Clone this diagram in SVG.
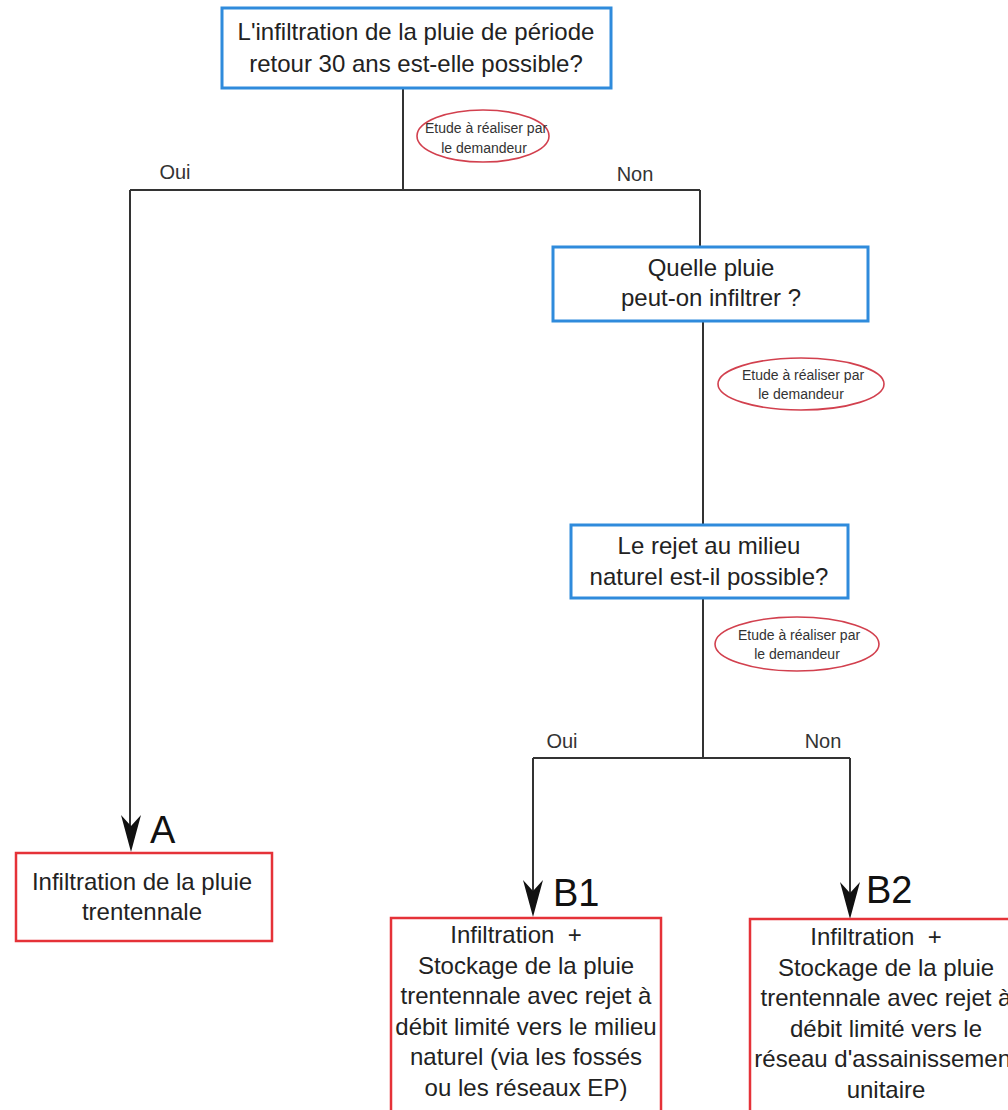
<svg xmlns="http://www.w3.org/2000/svg" width="1008" height="1110" viewBox="0 0 1008 1110">
<style>
.q{fill:#fff;stroke:#2f8bdc;stroke-width:3}
.r{fill:#fff;stroke:#e53238;stroke-width:2.5}
.e{fill:none;stroke:#d2404e;stroke-width:1.6}
.t{font-family:"Liberation Sans",Arial,sans-serif;font-size:24px;fill:#222;text-anchor:middle}
.s{font-family:"Liberation Sans",Arial,sans-serif;font-size:14px;fill:#333;text-anchor:middle}
.l{font-family:"Liberation Sans",Arial,sans-serif;font-size:20px;fill:#333;text-anchor:middle}
.big{font-family:"Liberation Sans",Arial,sans-serif;font-size:38px;fill:#111}
.c{fill:none;stroke:#333;stroke-width:2}
.ah{fill:#111}
</style>
<rect width="1008" height="1110" fill="#fff"/>
<g id="connectors">
<path class="c" d="M403 88 V190 M130 190 H700 M130 190 V830 M700 190 V247"/>
<path class="c" d="M703 321 V525"/>
<path class="c" d="M703 598 V758 M533 758 H850 M533 758 V895 M850 758 V897"/>
<polygon class="ah" points="131,852 121,815 131,826 141,815"/>
<polygon class="ah" points="533,917 523,880 533,891 543,880"/>
<polygon class="ah" points="850,919 840,882 850,893 860,882"/>
</g>
<g id="q1">
<rect class="q" x="222" y="8" width="389" height="80"/>
<text class="t" x="416" y="40">L'infiltration de la pluie de période</text>
<text class="t" x="416" y="72">retour 30 ans est-elle possible?</text>
</g>
<g id="note1">
<ellipse class="e" cx="483" cy="136" rx="66" ry="26"/>
<text class="s" x="486" y="133">Etude à réaliser par</text>
<text class="s" x="484" y="153">le demandeur</text>
</g>
<g id="lbl-oui1"><text class="l" x="175" y="179">Oui</text></g>
<g id="lbl-non1"><text class="l" x="635" y="181">Non</text></g>
<g id="q2">
<rect class="q" x="553" y="247" width="315" height="74"/>
<text class="t" x="711" y="276">Quelle pluie</text>
<text class="t" x="711" y="306">peut-on infiltrer ?</text>
</g>
<g id="note2">
<ellipse class="e" cx="801" cy="384" rx="83" ry="26"/>
<text class="s" x="803" y="380">Etude à réaliser par</text>
<text class="s" x="801" y="399">le demandeur</text>
</g>
<g id="q3">
<rect class="q" x="571" y="525" width="277" height="73"/>
<text class="t" x="709" y="554">Le rejet au milieu</text>
<text class="t" x="709" y="585">naturel est-il possible?</text>
</g>
<g id="note3">
<ellipse class="e" cx="797" cy="644" rx="82" ry="27"/>
<text class="s" x="799" y="640">Etude à réaliser par</text>
<text class="s" x="797" y="659">le demandeur</text>
</g>
<g id="lbl-oui2"><text class="l" x="562" y="748">Oui</text></g>
<g id="lbl-non2"><text class="l" x="823" y="748">Non</text></g>
<g id="A">
<text class="big" x="150" y="843">A</text>
<rect class="r" x="16" y="853" width="256" height="88"/>
<text class="t" x="142" y="890">Infiltration de la pluie</text>
<text class="t" x="142" y="920">trentennale</text>
</g>
<g id="B1">
<text class="big" x="553" y="906">B1</text>
<rect class="r" x="391" y="918" width="270" height="200"/>
<text class="t" x="516" y="943" xml:space="preserve">Infiltration  +</text>
<text class="t" x="526" y="974">Stockage de la pluie</text>
<text class="t" x="526" y="1004">trentennale avec rejet à</text>
<text class="t" x="526" y="1035">débit limité vers le milieu</text>
<text class="t" x="526" y="1065">naturel (via les fossés</text>
<text class="t" x="526" y="1096">ou les réseaux EP)</text>
</g>
<g id="B2">
<text class="big" x="866" y="903">B2</text>
<rect class="r" x="750" y="919" width="270" height="200"/>
<text class="t" x="876" y="945" xml:space="preserve">Infiltration  +</text>
<text class="t" x="886" y="976">Stockage de la pluie</text>
<text class="t" x="886" y="1006">trentennale avec rejet à</text>
<text class="t" x="886" y="1037">débit limité vers le</text>
<text class="t" x="886" y="1067">réseau d'assainissement</text>
<text class="t" x="886" y="1098">unitaire</text>
</g>
</svg>
